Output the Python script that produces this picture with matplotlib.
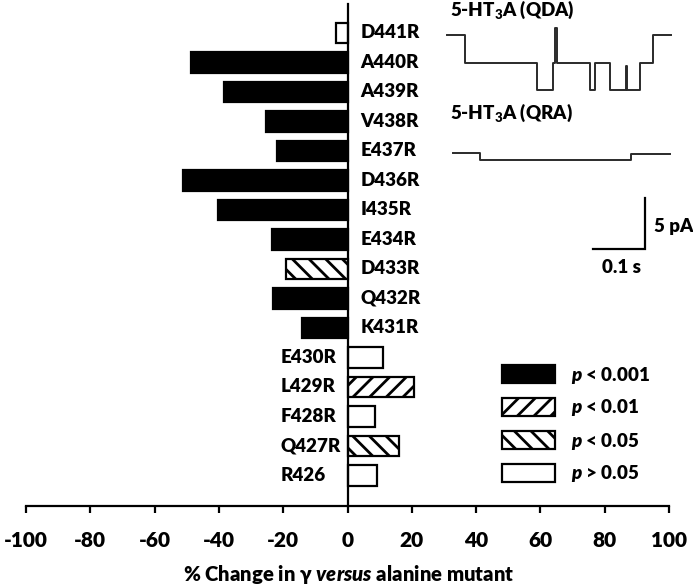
import matplotlib
matplotlib.use("Agg")
import matplotlib.pyplot as plt
from matplotlib.patches import Rectangle
import numpy as np

# ---------------- data ----------------
mutants = ["D441R", "A440R", "A439R", "V438R", "E437R", "D436R", "I435R", "E434R",
           "D433R", "Q432R", "K431R", "E430R", "L429R", "F428R", "Q427R", "R426"]
change = [-3.6, -48.6, -38.5, -25.2, -21.9, -51.1, -40.4, -23.6,
          -19.0, -23.3, -14.0, 11.1, 20.6, 8.7, 16.0, 9.3]
significance = ["ns", "***", "***", "***", "***", "***", "***", "***",
                "*", "***", "***", "ns", "**", "ns", "*", "ns"]
xticks = [-100, -80, -60, -40, -20, 0, 20, 40, 60, 80, 100]
legend_keys = ["***", "**", "*", "ns"]
legend_labels = ["$p$ < 0.001", "$p$ < 0.01", "$p$ < 0.05", "$p$ > 0.05"]

# single-channel traces (idealised step levels, s / pA)
qda_t = [0, 0.035, 0.173, 0.203, 0.207, 0.211, 0.275, 0.285, 0.313, 0.344, 0.347, 0.371, 0.397, 0.43]
qda_i = [0, -2.7, -5.4, -2.7, 0.7, -2.7, -5.4, -2.7, -5.4, -3.0, -5.4, -2.7, 0, 0]
qra_t = [0, 0.052, 0.342, 0.417]
qra_i = [0, -0.7, -0.1, -0.1]

# ---------------- style ----------------
WT = "heavy"
plt.rcParams["font.family"] = ["Lato", "DejaVu Sans"]
plt.rcParams["font.weight"] = WT
plt.rcParams["mathtext.fontset"] = "custom"
plt.rcParams["mathtext.rm"] = "Lato:heavy"
plt.rcParams["mathtext.it"] = "Lato:italic:heavy"
plt.rcParams["mathtext.bf"] = "Lato:heavy"
plt.rcParams["hatch.linewidth"] = 2.0

W, H = 693, 588
fig = plt.figure(figsize=(W / 100, H / 100), dpi=100)

def fx(px):
    return px / W

def fy(py):
    return 1 - py / H

ax = fig.add_axes([fx(26), fy(506), fx(669) - fx(26), fy(4) - fy(506)])

styles = {
    "***": dict(facecolor="black", hatch=None),
    "**": dict(facecolor="white", hatch="//"),
    "*": dict(facecolor="white", hatch="\\\\"),
    "ns": dict(facecolor="white", hatch=None),
}

n = len(mutants)
ypos = np.arange(n)[::-1]
for y, v, s, name in zip(ypos, change, significance, mutants):
    st = styles[s]
    ax.barh(y, v, height=0.71, color=st["facecolor"], edgecolor="black",
            linewidth=1.6, hatch=st["hatch"], zorder=2)
    if v < 0:
        ax.text(4.0, y, name, ha="left", va="center", fontsize=13.5, fontweight=WT)
    else:
        ax.text(-20.7, y, name, ha="left", va="center", fontsize=13.5, fontweight=WT)

ax.set_xlim(-100, 100)
ax.set_ylim(-1.034, n - 1 + 0.983)
ax.set_xticks(xticks)
ax.set_xticklabels([str(t) for t in xticks])
ax.tick_params(axis="x", direction="out", length=5.2, width=1.6, pad=13.0,
               labelsize=15)
for lab in ax.get_xticklabels():
    lab.set_fontweight(WT)
ax.set_yticks([])
ax.spines["top"].set_visible(False)
ax.spines["right"].set_visible(False)
ax.spines["left"].set_position(("data", 0))
ax.spines["left"].set_linewidth(1.6)
ax.spines["left"].set_zorder(3)
ax.spines["bottom"].set_linewidth(1.6)

# x label with italic "versus"
fig.text(fx(348.5), fy(581), r"% Change in γ $\mathit{versus}$ alanine mutant",
         ha="center", va="baseline", fontsize=14.6, fontweight=WT)

# legend (manual)
for i, (k, lab) in enumerate(zip(legend_keys, legend_labels)):
    cy = 374 + 33 * i
    st = styles[k]
    r = Rectangle((fx(502), fy(cy + 9)), fx(555) - fx(502), fy(cy - 9) - fy(cy + 9),
                  transform=fig.transFigure, facecolor=st["facecolor"],
                  edgecolor="black", linewidth=1.6, hatch=st["hatch"])
    fig.patches.append(r)
    fig.text(fx(571), fy(cy + 6.5), lab, ha="left", va="baseline", fontsize=13.5,
             fontweight=WT)

# inset with traces
ax2 = fig.add_axes([fx(440), fy(290), fx(693) - fx(440), fy(0) - fy(290)])
ax2.set_xlim(0, 253 / 520)
ax2.set_ylim(0, 290 / 10.2)
ax2.axis("off")

qda_x0, qda_y0 = (447 - 440) / 520, (290 - 35) / 10.2
qra_x0, qra_y0 = (453 - 440) / 520, (290 - 153) / 10.2
ax2.plot(np.array(qda_t) + qda_x0, np.array(qda_i) + qda_y0, drawstyle="steps-post",
         color="#2a2a2a", linewidth=1.4)
ax2.plot(np.array(qra_t) + qra_x0, np.array(qra_i) + qra_y0, drawstyle="steps-post",
         color="#2a2a2a", linewidth=1.4)

ax2.text(0.0192, 27.45, "5-HT$_3$A (QDA)", ha="left", va="center", fontsize=13.5,
         fontweight=WT)
ax2.text(0.0192, 17.35, "5-HT$_3$A (QRA)", ha="left", va="center", fontsize=13.5,
         fontweight=WT)

# scale bar
bx, by = 0.3942, 4.02
ax2.plot([bx - 0.1, bx, bx], [by, by, by + 5], color="black", linewidth=1.6,
         solid_joinstyle="miter")
ax2.text(0.4115, 6.27, "5 pA", ha="left", va="center", fontsize=13.5, fontweight=WT)
ax2.text(0.35, 2.16, "0.1 s", ha="center", va="center", fontsize=13.5, fontweight=WT)

fig.savefig("out.png", dpi=100)
